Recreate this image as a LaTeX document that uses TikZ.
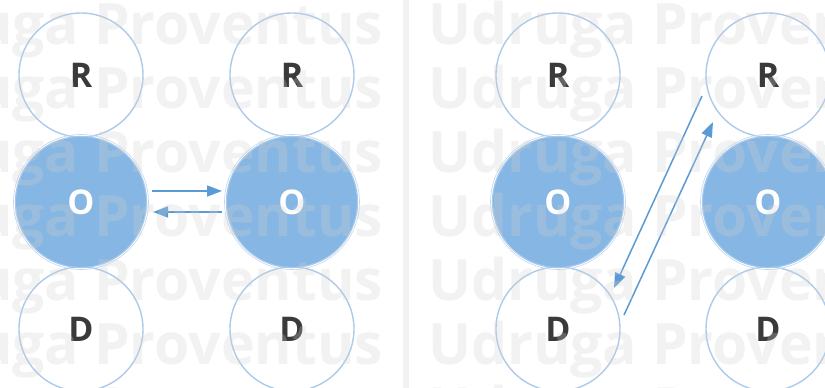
\documentclass[tikz,border=0pt]{standalone}
\usepackage{fontspec}
\setmainfont{Open Sans}
\newfontfamily\wmfont{Open Sans}[BoldFont={* Bold}]
\usetikzlibrary{arrows.meta}
\definecolor{ringc}{HTML}{AECAEB}
\definecolor{ofill}{HTML}{86B6E3}
\definecolor{oedge}{HTML}{A6C8EC}
\definecolor{arrc}{HTML}{5B9BD5}
\definecolor{letc}{HTML}{3A3A3A}
\definecolor{divc}{HTML}{F2F2F2}
\definecolor{wmc}{HTML}{D0D0D0}
\tikzset{
  ring/.style={circle, draw=ringc, line width=1.4pt, fill=white, minimum size=124pt, inner sep=0pt,
    text=letc, font=\bfseries\fontsize{34}{34}\selectfont},
  obox/.style={circle, draw=oedge, line width=1.2pt, fill=ofill, minimum size=131pt, inner sep=0pt,
    text=white, font=\bfseries\fontsize{34}{34}\selectfont,
    append after command={\pgfextra{\draw[oedge!70!white, line width=0.6pt] (\tikzlastnode.center) circle (67.5pt);}}},
  arr/.style={draw=arrc, line width=1.5pt, -{Triangle[length=15pt,width=11pt]}},
  wm/.style={anchor=base west, inner sep=0pt, text=wmc, opacity=0.27,
    font=\wmfont\bfseries\fontsize{57}{57}\selectfont}
}
\begin{document}
\begin{tikzpicture}[x=1pt,y=-1pt]
\fill[white] (0,0) rectangle (825,388);
\useasboundingbox (0,0) rectangle (825,388);
\fill[divc] (403,0) rectangle (409,388);
% left panel
\node[ring] (R1) at (81,75) {R};
\node[ring] (R2) at (292,75) {R};
\node[ring] (D1) at (81,329) {D};
\node[ring] (D2) at (292,329) {D};
\node[obox] (O1) at (81,202) {O};
\node[obox] (O2) at (292,202) {O};
\draw[arr] ([shift={(71,-11)}]O1.center) -- ([shift={(-70,-11)}]O2.center);
\draw[arr] ([shift={(-70,10)}]O2.center) -- ([shift={(72,10)}]O1.center);
% right panel
\node[ring] (R3) at (558,75) {R};
\node[ring] (R4) at (768,75) {R};
\node[ring] (D3) at (558,329) {D};
\node[ring] (D4) at (768,329) {D};
\node[obox] (O3) at (558,202) {O};
\node[obox] (O4) at (768,202) {O};
\draw[arr] ([shift={(-66,21)}]R4.center) -- ([shift={(56,-41)}]D3.center);
\draw[arr] ([shift={(66,-14)}]D3.center) -- ([shift={(-55,47)}]R4.center);
% watermark
\foreach \k in {0,...,6}{
  \node[wm] (wl\k) at (-130,44+64*\k) {Udruga Proventus};
  \node[wm] (wr\k) at (428,44+64*\k) {Udruga Proventus};
}
\end{tikzpicture}
\end{document}
